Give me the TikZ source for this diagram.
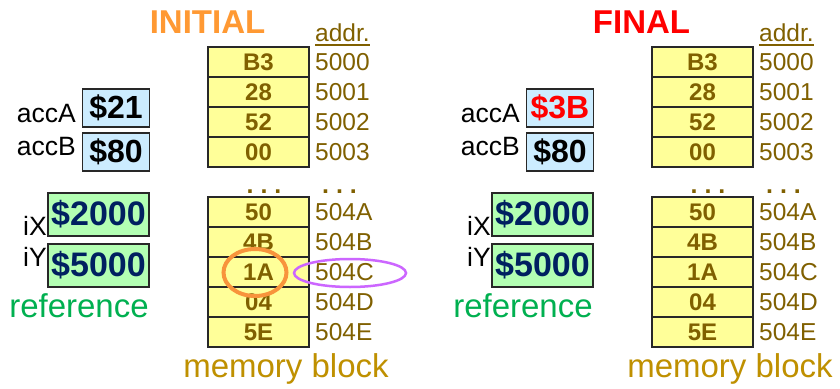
\documentclass[tikz,border=0pt]{standalone}
\usepackage{fontspec}
\setmainfont{Liberation Sans}
\usetikzlibrary{calc}

\definecolor{memtext}{RGB}{128,96,0}
\definecolor{memlabel}{RGB}{191,144,0}
\definecolor{memfill}{RGB}{255,255,153}
\definecolor{accfill}{RGB}{204,236,255}
\definecolor{idxfill}{RGB}{179,255,179}
\definecolor{idxtext}{RGB}{0,32,96}
\definecolor{refgreen}{RGB}{0,176,80}
\definecolor{initorange}{RGB}{255,153,51}
\definecolor{finalred}{RGB}{255,0,0}
\definecolor{ringorange}{RGB}{248,148,60}
\definecolor{ringviolet}{RGB}{204,102,255}
\definecolor{cellline}{RGB}{40,40,40}

\newcommand\sizept[1]{\fontsize{#1pt}{#1pt}\selectfont}

\tikzset{
  memcell/.style={draw=cellline, line width=1.2pt, fill=memfill,
    minimum width=101pt, minimum height=30pt, inner sep=0pt,
    text=memtext, font=\bfseries\sizept{24}},
  addrtext/.style={anchor=west, inner sep=0pt, text=memtext, font=\sizept{24.5}},
  accbox/.style={draw=cellline, line width=1.2pt, fill=accfill,
    minimum width=67pt, minimum height=38pt, inner sep=0pt, font=\bfseries\sizept{32}},
  idxbox/.style={draw=cellline, line width=1.2pt, fill=idxfill,
    minimum width=101pt, minimum height=43pt, inner sep=0pt,
    text=idxtext, font=\bfseries\sizept{34}},
  reglabel/.style={anchor=base east, inner sep=0pt, font=\sizept{26.5}},
  gapdots/.style={anchor=base, inner sep=0pt, text=memtext, font=\bfseries\sizept{25}},
  titletext/.style={anchor=base, inner sep=0pt, font=\bfseries\sizept{33}},
}

% One machine state: registers on the left, memory block on the right.
% #1 name prefix, #2 horizontal offset, #3 title, #4 title colour,
% #5 accA value, #6 accA colour, #7 title centre
\newcommand\regstate[7]{%
\begin{scope}[xshift=#2]
  \node[titletext, text=#4] (#1title) at (#7,33) {#3};
  \node[anchor=base west, inner sep=0pt, text=memtext, font=\sizept{24.5}] (#1addr) at (315,41) {addr.};
  \draw[memtext, line width=2pt] ([yshift=-3.5pt]#1addr.south west) -- ([yshift=-3.5pt]#1addr.south east);
  \foreach \v/\a/\y [count=\i] in {B3/5000/62, 28/5001/92, 52/5002/122, 00/5003/152,
      50/504A/212, 4B/504B/242, 1A/504C/272, 04/504D/302, 5E/504E/332} {
    \node[memcell] (#1m\i) at (258.5,\y) {\v};
    \node[addrtext] (#1a\i) at (315,\y) {\a};
  }
  \node[gapdots] (#1dotsm) at (264,193) {.\ .\ .};
  \node[gapdots] (#1dotsa) at (339.5,193) {.\ .\ .};
  \node[text=memlabel, anchor=base, inner sep=0pt, font=\sizept{33}] (#1memlbl) at (286,377) {memory block};
  % accumulators
  \node[accbox, text=#6] (#1accA) at (116,108) {#5};
  \node[accbox] (#1accB) at (116,152) {\$80};
  \node[reglabel] (#1accAl) at (76,122) {accA};
  \node[reglabel] (#1accBl) at (76,155) {accB};
  % index registers
  \node[idxbox] (#1iX) at (98.5,214.5) {\$2000};
  \node[idxbox] (#1iY) at (98.5,265.5) {\$5000};
  \node[reglabel] (#1iXl) at (47,235) {iX};
  \node[reglabel] (#1iYl) at (47,266) {iY};
  \node[text=refgreen, anchor=base, inner sep=0pt, font=\sizept{33}] (#1ref) at (79,317) {reference};
\end{scope}}

\begin{document}
\begin{tikzpicture}[x=1pt, y=-1pt]
  \fill[white] (0,0) rectangle (840,388);
  \useasboundingbox (0,0) rectangle (840,388);

  \regstate{L}{0pt}{INITIAL}{initorange}{\$21}{black}{207.5}
  \regstate{R}{444pt}{FINAL}{finalred}{\$3B}{finalred}{197.5}

  % operand selected by the indexed access
  \draw[ringorange, line width=4pt] ([xshift=-3.5pt, yshift=-0.5pt]Lm7.center) ellipse [x radius=31.5, y radius=23.5];
  \draw[ringviolet, line width=2.5pt] ([xshift=35pt, yshift=-1pt]La7.west) ellipse [x radius=56, y radius=14];
\end{tikzpicture}
\end{document}
